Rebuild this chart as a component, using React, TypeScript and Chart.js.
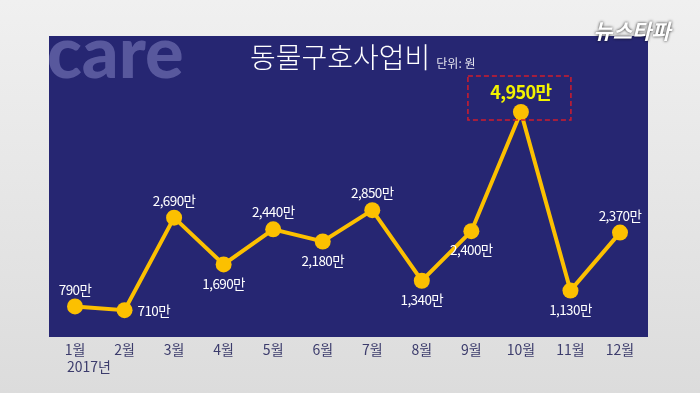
import React, { useEffect, useRef } from "react";
import { Chart, registerables } from "chart.js";

Chart.register(...registerables);

const months = ["1월", "2월", "3월", "4월", "5월", "6월", "7월", "8월", "9월", "10월", "11월", "12월"];
const values = [790, 710, 2690, 1690, 2440, 2180, 2850, 1340, 2400, 4950, 1130, 2370];
const valueLabels = ["790만", "710만", "2,690만", "1,690만", "2,440만", "2,180만", "2,850만", "1,340만", "2,400만", "4,950만", "1,130만", "2,370만"];
const labelPlacement = ["above", "right", "above", "below", "above", "below", "above", "below", "below", "highlight", "below", "above"];
const chartTitle = "동물구호사업비";
const unitText = "단위: 원";
const yearText = "2017년";
const watermarkText = "care";
const logoText = "뉴스타파";

const KR = '"Noto Sans CJK KR", "Noto Sans", sans-serif';

const decorPlugin = {
  id: "decor",
  beforeDraw(chart: any) {
    const ctx = chart.ctx;
    const W = chart.width, H = chart.height;
    ctx.save();
    const g = ctx.createLinearGradient(0, 0, 0, H);
    g.addColorStop(0, "#f0f0f0");
    g.addColorStop(1, "#dcdcdc");
    ctx.fillStyle = g;
    ctx.fillRect(0, 0, W, H);
    // panel
    ctx.fillStyle = "#262672";
    ctx.fillRect(49, 36, 599, 301);
    // watermark
    ctx.save();
    ctx.beginPath();
    ctx.rect(49, 36, 599, 301);
    ctx.clip();
    ctx.fillStyle = "rgba(150,150,210,0.45)";
    ctx.font = '900 72px "Lato", "DejaVu Sans", sans-serif';
    ctx.textBaseline = "alphabetic";
    ctx.textAlign = "left";
    ctx.fillText(watermarkText, 47, 78);
    ctx.restore();
    // title
    ctx.fillStyle = "#ffffff";
    ctx.font = "300 28px " + KR;
    ctx.textBaseline = "middle";
    ctx.textAlign = "left";
    ctx.fillText(chartTitle, 250, 57);
    const tw = ctx.measureText(chartTitle).width;
    ctx.fillStyle = "#e6e6f0";
    ctx.font = "12px " + KR;
    ctx.fillText(unitText, 250 + tw + 6, 63);
    // logo
    ctx.save();
    ctx.translate(634, 31);
    ctx.transform(1, 0, -0.25, 1, 0, 0);
    ctx.font = "bold 21px " + KR;
    ctx.textAlign = "center";
    ctx.shadowColor = "rgba(0,0,0,0.9)";
    ctx.shadowBlur = 3;
    ctx.fillStyle = "#ffffff";
    ctx.fillText(logoText, 0, 0);
    ctx.restore();
    ctx.restore();
  },
  afterDatasetsDraw(chart: any) {
    const ctx = chart.ctx;
    const meta = chart.getDatasetMeta(0);
    ctx.save();
    ctx.textBaseline = "middle";
    meta.data.forEach((pt: any, i: number) => {
      const p = labelPlacement[i];
      const txt = valueLabels[i];
      ctx.textAlign = "center";
      ctx.fillStyle = "#ffffff";
      ctx.font = "13.5px " + KR;
      (ctx as any).letterSpacing = "-0.6px";
      if (p === "above") {
        ctx.fillText(txt, pt.x, pt.y - 17);
      } else if (p === "below") {
        ctx.fillText(txt, pt.x, pt.y + 19);
      } else if (p === "right") {
        ctx.textAlign = "left";
        ctx.fillText(txt, pt.x + 13, pt.y + 1);
      } else if (p === "highlight") {
        ctx.fillStyle = "#f2f200";
        ctx.font = "bold 18px " + KR;
        ctx.fillText(txt, pt.x, pt.y - 20);
        ctx.setLineDash([5, 3]);
        ctx.strokeStyle = "#d01c2c";
        ctx.lineWidth = 1.5;
        ctx.strokeRect(pt.x - 53, pt.y - 36, 103, 44);
        ctx.setLineDash([]);
      }
    });
    (ctx as any).letterSpacing = "0px";
    const xs = chart.scales.x;
    ctx.textAlign = "left";
    ctx.fillStyle = "#3c3c6c";
    ctx.font = "14px " + KR;
    ctx.fillText(yearText, xs.getPixelForValue(0) - 8, 367);
    ctx.restore();
  },
};

export default function App() {
  const ref = useRef<HTMLCanvasElement | null>(null);
  useEffect(() => {
    if (!ref.current) return;
    const chart = new Chart(ref.current, {
      type: "line",
      data: {
        labels: months,
        datasets: [
          {
            data: values,
            borderColor: "#fcc000",
            backgroundColor: "#fcc000",
            borderWidth: 4,
            pointRadius: 8,
            pointHoverRadius: 8,
            pointBackgroundColor: "#fcc000",
            pointBorderWidth: 0,
            tension: 0,
            clip: false,
          } as any,
        ],
      },
      options: {
        responsive: false,
        animation: false,
        events: [],
        layout: { padding: { left: 75, right: 80, top: 105, bottom: 0 } },
        plugins: { legend: { display: false }, tooltip: { enabled: false }, title: { display: false } },
        scales: {
          x: {
            offset: false,
            grid: { display: false, drawTicks: false },
            border: { display: false },
            ticks: { color: "#3c3c6c", font: { size: 14, family: KR }, padding: 21, maxRotation: 0, autoSkip: false },
            afterFit: (s: any) => { s.height = 73; },
          },
          y: { display: false, min: 500, max: 5100 },
        },
      },
      plugins: [decorPlugin],
    });
    return () => chart.destroy();
  }, []);
  return (
    <div style={{ position: "absolute", left: 0, top: 0, width: 700, height: 393 }}>
      <canvas ref={ref} width={700} height={393} style={{ display: "block", width: 700, height: 393 }} />
    </div>
  );
}
